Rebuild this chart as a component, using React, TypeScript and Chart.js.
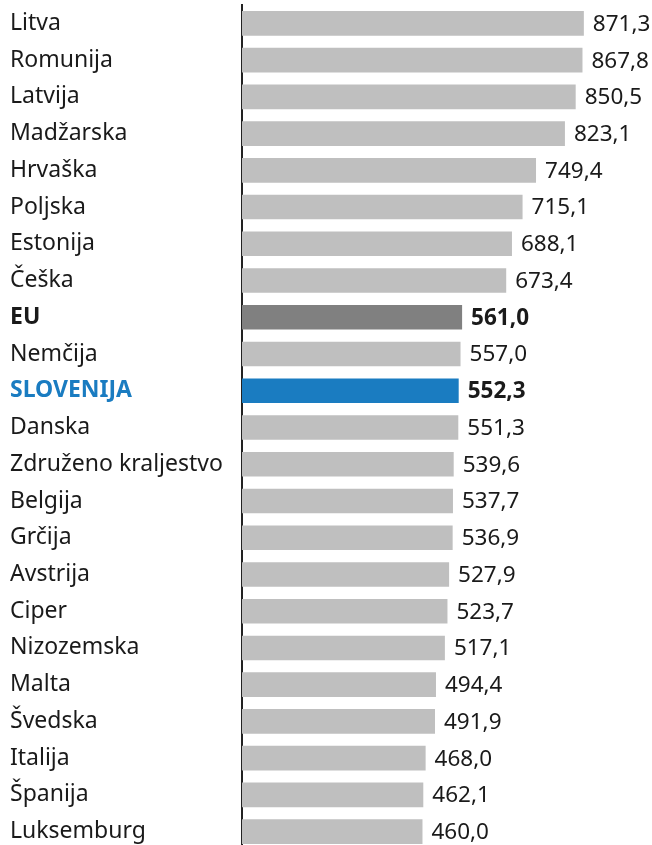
import React, { useEffect, useRef } from "react";
import { Chart, registerables } from "chart.js";

Chart.register(...registerables);

const countries = [
  "Litva", "Romunija", "Latvija", "Madžarska", "Hrvaška", "Poljska", "Estonija", "Češka",
  "EU", "Nemčija", "SLOVENIJA", "Danska", "Združeno kraljestvo", "Belgija", "Grčija",
  "Avstrija", "Ciper", "Nizozemska", "Malta", "Švedska", "Italija", "Španija", "Luksemburg",
];
const values = [
  871.3, 867.8, 850.5, 823.1, 749.4, 715.1, 688.1, 673.4,
  561.0, 557.0, 552.3, 551.3, 539.6, 537.7, 536.9,
  527.9, 523.7, 517.1, 494.4, 491.9, 468.0, 462.1, 460.0,
];
const EU_LABEL = "EU";
const SI_LABEL = "SLOVENIJA";

const GREY = "#bfbfbf";
const EU_COLOR = "#808080";
const SI_COLOR = "#1a7cc1";
const TEXT = "#1a1a1a";
const FONT = "'Noto Sans', sans-serif";
const LABEL_SIZE = 23;
const VALUE_SIZE = 22.5;

const fmt = (v: number) => v.toFixed(1).replace(".", ",");

export default function App() {
  const ref = useRef<HTMLCanvasElement | null>(null);
  useEffect(() => {
    if (!ref.current) return;
    const colors = countries.map((c) => (c === EU_LABEL ? EU_COLOR : c === SI_LABEL ? SI_COLOR : GREY));
    const valuePlugin = {
      id: "valueLabels",
      afterDatasetsDraw(chart: any) {
        const ctx = chart.ctx;
        const meta = chart.getDatasetMeta(0);
        ctx.save();
        ctx.textBaseline = "middle";
        ctx.textAlign = "left";
        meta.data.forEach((bar: any, i: number) => {
          const special = countries[i] === EU_LABEL || countries[i] === SI_LABEL;
          ctx.font = `${special ? "bold " : ""}${VALUE_SIZE}px ${FONT}`;
          ctx.fillStyle = TEXT;
          ctx.fillText(fmt(values[i]), bar.x + 9, bar.y + 1);
        });
        ctx.restore();
      },
    };
    const chart = new Chart(ref.current, {
      type: "bar",
      data: {
        labels: countries,
        datasets: [
          {
            data: values,
            backgroundColor: colors,
            borderWidth: 0,
            categoryPercentage: 1,
            barPercentage: 0.67,
          },
        ],
      },
      options: {
        indexAxis: "y",
        animation: false,
        responsive: false,
        maintainAspectRatio: false,
        layout: { padding: { left: 10, top: 5, right: 0, bottom: 0 } },
        plugins: { legend: { display: false }, tooltip: { enabled: false } },
        scales: {
          x: { display: false, min: 0, max: 1045 },
          y: {
            grid: { display: false, drawTicks: false },
            border: { display: true, color: "#222222", width: 2 },
            afterFit: (scale: any) => {
              scale.width = 232;
              scale.paddingTop = 0;
              scale.paddingBottom = 0;
            },
            ticks: {
              crossAlign: "far",
              padding: 0,
              color: (ctx: any) => (countries[ctx.index] === SI_LABEL ? SI_COLOR : TEXT),
              font: (ctx: any) => {
                const c = countries[ctx.index];
                const special = c === EU_LABEL || c === SI_LABEL;
                return { family: FONT, size: LABEL_SIZE, weight: special ? "bold" : "normal" };
              },
            },
          },
        },
      },
      plugins: [valuePlugin],
    });
    return () => chart.destroy();
  }, []);
  return (
    <div style={{ position: "absolute", left: 0, top: 0, width: 652, height: 850, background: "#fff" }}>
      <canvas ref={ref} width={652} height={850} style={{ width: 652, height: 850 }} />
    </div>
  );
}
